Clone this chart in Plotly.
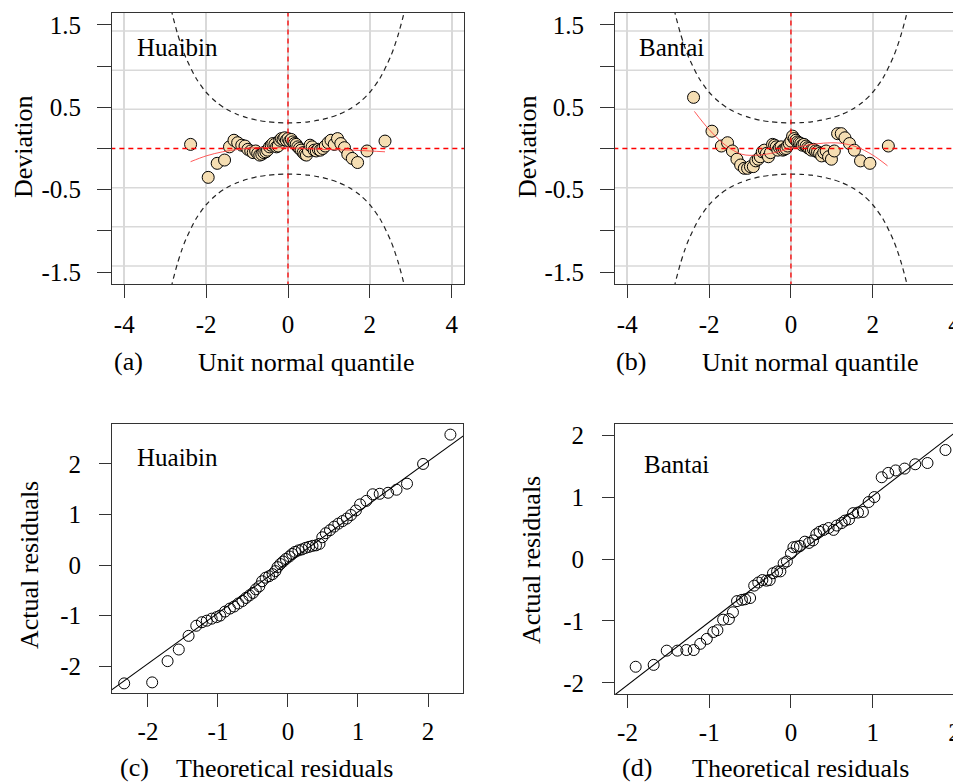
import plotly.graph_objects as go

# the page adds an 8 px body margin, so the figure is sized to end exactly at the window edge
OFF = 8
W, H = 961 - OFF, 784 - OFF
FONT = "Liberation Serif"

# ---------------- data ----------------
# (a) worm plot, Huaibin
worm_a_x = [-2.38, -1.95, -1.73, -1.55, -1.43, -1.32, -1.23, -1.13, -1.05, -0.98, -0.91, -0.85,
            -0.79, -0.74, -0.69, -0.64, -0.59, -0.54, -0.50, -0.45, -0.41, -0.37, -0.32, -0.28,
            -0.24, -0.20, -0.16, -0.12, -0.08, -0.04, 0.00, 0.04, 0.08, 0.12, 0.16, 0.20, 0.24,
            0.28, 0.32, 0.37, 0.41, 0.45, 0.50, 0.54, 0.59, 0.64, 0.69, 0.74, 0.79, 0.85, 0.91,
            0.98, 1.05, 1.13, 1.21, 1.29, 1.38, 1.46, 1.57, 1.70, 1.93, 2.37]
worm_a_y = [0.05, -0.35, -0.18, -0.14, 0.02, 0.10, 0.07, 0.04, 0.03, -0.01, -0.03, -0.05,
            -0.03, -0.06, -0.08, -0.07, -0.05, -0.04, -0.02, 0.02, 0.04, 0.06, 0.05, 0.02,
            0.03, 0.10, 0.12, 0.11, 0.13, 0.10, 0.12, 0.09, 0.11, 0.08, 0.06, 0.05, 0.02,
            0.00, -0.02, -0.05, -0.07, -0.08, -0.03, 0.04, 0.02, -0.02, -0.03, -0.01, -0.02, 0.00,
            0.03, 0.07, 0.10, 0.05, 0.12, 0.06, 0.01, -0.07, -0.12, -0.17, -0.03, 0.09]
fit_a_x = [-2.38, -2.0, -1.6, -1.2, -0.8, -0.4, 0.0, 0.4, 0.8, 1.2, 1.6, 2.0, 2.37]
fit_a_y = [-0.16, -0.09, -0.04, -0.01, 0.01, 0.01, 0.01, 0.0, -0.01, -0.015, -0.02, -0.03, -0.04]

# (b) worm plot, Bantai
worm_b_x = [-2.38, -1.93, -1.70, -1.55, -1.43, -1.32, -1.23, -1.14, -1.06, -0.99, -0.92, -0.86,
            -0.80, -0.75, -0.70, -0.65, -0.60, -0.55, -0.50, -0.45, -0.40, -0.36, -0.32, -0.28,
            -0.24, -0.20, -0.16, -0.12, -0.08, -0.04, 0.00, 0.04, 0.08, 0.12, 0.16, 0.20, 0.24,
            0.28, 0.32, 0.37, 0.41, 0.45, 0.50, 0.55, 0.60, 0.65, 0.70, 0.75, 0.80, 0.86, 0.92,
            0.99, 1.06, 1.14, 1.23, 1.32, 1.43, 1.55, 1.70, 1.93, 2.38]
worm_b_y = [0.62, 0.21, 0.03, 0.07, -0.03, -0.13, -0.20, -0.24, -0.24, -0.22, -0.22, -0.15,
            -0.13, -0.10, -0.04, -0.02, -0.06, -0.10, -0.05, 0.05, 0.04, 0.02, -0.02, 0.01,
            0.02, -0.02, -0.01, 0.00, 0.03, 0.06, 0.09, 0.15, 0.12, 0.10, 0.08, 0.07, 0.06,
            0.04, 0.05, 0.03, 0.01, 0.00, -0.02, -0.01, -0.03, -0.04, -0.06, -0.09, -0.05, -0.03,
            -0.10, -0.13, -0.03, 0.18, 0.18, 0.13, 0.06, -0.02, -0.15, -0.18, 0.03]
fit_b_x = [-2.36, -2.0, -1.6, -1.2, -0.8, -0.4, 0.0, 0.4, 0.8, 1.2, 1.6, 2.0, 2.36]
fit_b_y = [0.45, 0.23, 0.04, -0.07, -0.08, -0.05, 0.0, 0.04, 0.065, 0.065, 0.02, -0.08, -0.21]

# 95% band of the worm plots
band_z = [-2.9, -2.85, -2.8, -2.7, -2.6, -2.5, -2.25, -2.0, -1.75, -1.5, -1.25, -1.0, -0.75,
          -0.5, -0.25, 0.0, 0.25, 0.5, 0.75, 1.0, 1.25, 1.5, 1.75, 2.0, 2.25, 2.5, 2.6, 2.7,
          2.8, 2.85, 2.9]
band_up = [1.79, 1.678, 1.575, 1.393, 1.238, 1.107, 0.855, 0.682, 0.561, 0.476, 0.416, 0.373,
           0.343, 0.324, 0.313, 0.310, 0.313, 0.324, 0.343, 0.373, 0.416, 0.476, 0.561, 0.682,
           0.855, 1.107, 1.238, 1.393, 1.575, 1.678, 1.79]

# (c) QQ plot, Huaibin
qq_c_x = [-2.34, -1.94, -1.72, -1.56, -1.42, -1.31, -1.23, -1.16, -1.09, -1.02, -0.97, -0.90,
          -0.83, -0.77, -0.71, -0.65, -0.60, -0.55, -0.50, -0.46, -0.41, -0.37, -0.32, -0.27,
          -0.22, -0.18, -0.15, -0.11, -0.07, -0.03, 0.02, 0.06, 0.10, 0.15, 0.20, 0.25, 0.30,
          0.35, 0.40, 0.45, 0.49, 0.54, 0.60, 0.66, 0.72, 0.78, 0.84, 0.90, 0.97, 1.03, 1.12,
          1.21, 1.31, 1.43, 1.55, 1.70, 1.93, 2.32]
qq_c_y = [-2.34, -2.32, -1.90, -1.67, -1.40, -1.20, -1.13, -1.10, -1.06, -1.03, -1.00, -0.92,
          -0.86, -0.82, -0.76, -0.71, -0.65, -0.60, -0.55, -0.48, -0.42, -0.32, -0.25, -0.22,
          -0.18, -0.12, -0.04, 0.02, 0.07, 0.12, 0.17, 0.22, 0.26, 0.29, 0.31, 0.34, 0.36,
          0.38, 0.39, 0.42, 0.55, 0.63, 0.69, 0.76, 0.82, 0.87, 0.92, 0.99, 1.08, 1.20, 1.27,
          1.40, 1.41, 1.43, 1.49, 1.61, 2.00, 2.58]
line_c_x = [-2.6, 2.6]
line_c_y = [-2.55, 2.65]

# (d) QQ plot, Bantai
qq_d_x = [-1.90, -1.68, -1.52, -1.39, -1.28, -1.19, -1.11, -1.03, -0.95, -0.90, -0.83, -0.76,
          -0.71, -0.66, -0.60, -0.56, -0.50, -0.45, -0.40, -0.35, -0.30, -0.26, -0.22, -0.17,
          -0.13, -0.09, -0.05, 0.00, 0.03, 0.07, 0.11, 0.17, 0.22, 0.27, 0.31, 0.35, 0.40,
          0.46, 0.52, 0.56, 0.62, 0.66, 0.71, 0.76, 0.82, 0.88, 0.95, 1.02, 1.11, 1.19, 1.28,
          1.39, 1.52, 1.67, 1.89]
qq_d_y = [-1.74, -1.71, -1.48, -1.48, -1.47, -1.47, -1.37, -1.29, -1.18, -1.15, -0.98, -0.97,
          -0.86, -0.68, -0.66, -0.65, -0.63, -0.43, -0.38, -0.34, -0.35, -0.34, -0.23, -0.20,
          -0.20, -0.07, -0.04, 0.09, 0.19, 0.20, 0.21, 0.28, 0.26, 0.30, 0.40, 0.44, 0.47,
          0.50, 0.47, 0.54, 0.58, 0.62, 0.64, 0.74, 0.75, 0.76, 0.92, 1.00, 1.32, 1.39, 1.43,
          1.46, 1.53, 1.55, 1.76]
line_d_x = [-2.3, 2.3]
line_d_y = [-2.34, 2.34]

worm_xticks = [-4, -2, 0, 2, 4]
worm_xtext = ["-4", "-2", "0", "2", "4"]
worm_yticks = [-1.5, -1.0, -0.5, 0.0, 0.5, 1.0, 1.5]
worm_ytext = ["-1.5", "", "-0.5", "", "0.5", "", "1.5"]
worm_grid_y = [-1.425, -0.95, -0.475, 0.475, 0.95, 1.425]
worm_ref_x = [-5, 5]      # horizontal red reference at deviation 0
worm_ref_y = [-2, 2]      # vertical red reference at quantile 0
qq_ticks = [-2, -1, 0, 1, 2]
qq_text = ["-2", "-1", "0", "1", "2"]


# ---------------- helpers (layout only, in window pixels) ----------------
def px_x(p):
    return (p - OFF) / W


def px_y(p):
    return 1 - (p - OFF) / H


fig = go.Figure()

BOX = "#333333"
TICKFONT = dict(family=FONT, size=25, color="black")
RED_DASH = dict(color="red", width=1.3, dash="5px,4px")


def add_worm(xs, ys, fx, fy, ax):
    xr = "x" if ax == 1 else f"x{ax}"
    yr = "y" if ax == 1 else f"y{ax}"
    for sgn in (1, -1):
        fig.add_trace(go.Scatter(x=band_z, y=[sgn * v for v in band_up], mode="lines",
                                 xaxis=xr, yaxis=yr,
                                 line=dict(color="#222222", width=1.2, dash="5px,4px",
                                           shape="spline", smoothing=0.8),
                                 hoverinfo="skip", showlegend=False))
    fig.add_trace(go.Scatter(x=xs, y=ys, mode="markers", xaxis=xr, yaxis=yr,
                             marker=dict(size=12, color="#F5DEB3",
                                         line=dict(color="black", width=1)),
                             showlegend=False))
    fig.add_trace(go.Scatter(x=worm_ref_x, y=[0, 0], mode="lines", xaxis=xr, yaxis=yr,
                             line=RED_DASH, hoverinfo="skip", showlegend=False))
    fig.add_trace(go.Scatter(x=[0, 0], y=worm_ref_y, mode="lines", xaxis=xr, yaxis=yr,
                             line=RED_DASH, hoverinfo="skip", showlegend=False))
    fig.add_trace(go.Scatter(x=fx, y=fy, mode="lines", xaxis=xr, yaxis=yr,
                             line=dict(color="rgba(255,60,60,0.85)", width=1, shape="spline"),
                             hoverinfo="skip", showlegend=False))
    xd = f"{xr} domain"
    for gy in worm_grid_y:
        fig.add_shape(type="line", xref=xd, yref=yr, x0=0, x1=1, y0=gy, y1=gy,
                      line=dict(color="#d9d9d9", width=1.5), layer="below")


def add_qq(xs, ys, lx, ly, ax):
    xr = f"x{ax}"
    yr = f"y{ax}"
    fig.add_trace(go.Scatter(x=lx, y=ly, mode="lines", xaxis=xr, yaxis=yr,
                             line=dict(color="black", width=1.1),
                             hoverinfo="skip", showlegend=False))
    fig.add_trace(go.Scatter(x=xs, y=ys, mode="markers", xaxis=xr, yaxis=yr,
                             marker=dict(size=11, symbol="circle-open", color="black",
                                         line=dict(color="black", width=1)),
                             showlegend=False))


add_worm(worm_a_x, worm_a_y, fit_a_x, fit_a_y, 1)
add_worm(worm_b_x, worm_b_y, fit_b_x, fit_b_y, 2)
add_qq(qq_c_x, qq_c_y, line_c_x, line_c_y, 3)
add_qq(qq_d_x, qq_d_y, line_d_x, line_d_y, 4)


def xaxis(dom, rng, tv, tt, grid, standoff, anchor):
    return dict(domain=dom, range=rng, tickvals=tv, ticktext=tt, showgrid=grid,
                gridcolor="#d9d9d9", gridwidth=1.5, zeroline=False, showline=True,
                mirror=True, linecolor=BOX, linewidth=1, ticks="outside", ticklen=13,
                tickcolor=BOX, tickwidth=1, tickfont=TICKFONT, ticklabelstandoff=standoff,
                ticklabeloverflow="allow", anchor=anchor)


def yaxis(dom, rng, tv, tt, mirror, standoff, ticklen, anchor):
    return dict(domain=dom, range=rng, tickvals=tv, ticktext=tt, showgrid=False,
                zeroline=False, showline=True, mirror=mirror, linecolor=BOX, linewidth=1,
                ticks="outside", ticklen=ticklen, tickcolor=BOX, tickwidth=1, tickfont=TICKFONT,
                ticklabelstandoff=standoff, anchor=anchor)


top_y = [px_y(284), px_y(13)]
bot_y_c = [px_y(693), px_y(424)]
bot_y_d = [px_y(694), px_y(424)]
left_x_a = [px_x(112), px_x(464)]
left_x_c = [px_x(112), px_x(463)]
right_x = [px_x(615), 1.0]

fig.update_layout(
    width=W, height=H, margin=dict(l=0, r=0, t=0, b=0, autoexpand=False),
    paper_bgcolor="white", plot_bgcolor="white",
    font=dict(family=FONT, size=25, color="black"),
    xaxis=xaxis(left_x_a, [-4.30, 4.30], worm_xticks, worm_xtext, True, 5, "y"),
    yaxis=yaxis(top_y, [-1.643, 1.643], worm_yticks, worm_ytext, True, 11, 14, "x"),
    xaxis2=xaxis(right_x, [-4.30, 4.156], worm_xticks, worm_xtext, True, 5, "y2"),
    yaxis2=yaxis(top_y, [-1.643, 1.643], worm_yticks, worm_ytext, False, 11, 14, "x2"),
    xaxis3=xaxis(left_x_c, [-2.514, 2.50], qq_ticks, qq_text, False, 3, "y3"),
    yaxis3=yaxis(bot_y_c, [-2.53, 2.79], qq_ticks, qq_text, True, 13, 12, "x3"),
    xaxis4=xaxis(right_x, [-2.153, 2.08], qq_ticks, qq_text, False, 3, "y4"),
    yaxis4=yaxis(bot_y_d, [-2.18, 2.18], qq_ticks, qq_text, False, 13, 12, "x4"),
)

ann = []


def text(x, y, s, size=26, xanchor="left", angle=0):
    ann.append(dict(x=px_x(x), y=px_y(y), xref="paper", yref="paper", text=s,
                    showarrow=False, xanchor=xanchor, yanchor="middle", textangle=angle,
                    font=dict(family=FONT, size=size, color="black")))


# panel names
text(135, 47, "Huaibin", 25)
text(637, 47, "Bantai", 25)
text(135, 457, "Huaibin", 25)
text(642, 464, "Bantai", 25)
# x titles
text(112, 362, "(a)")
text(196, 363, "Unit normal quantile")
text(614, 362, "(b)")
text(700, 363, "Unit normal quantile")
text(118, 767, "(c)")
text(174, 768, "Theoretical residuals")
text(620, 767, "(d)")
text(690, 768, "Theoretical residuals")
# y titles
text(23, 147, "Deviation", xanchor="center", angle=-90)
text(527, 147, "Deviation", xanchor="center", angle=-90)
text(29, 565, "Actual residuals", xanchor="center", angle=-90)
text(531, 560, "Actual residuals", xanchor="center", angle=-90)

fig.update_layout(annotations=ann)

fig.write_html("out.html")
